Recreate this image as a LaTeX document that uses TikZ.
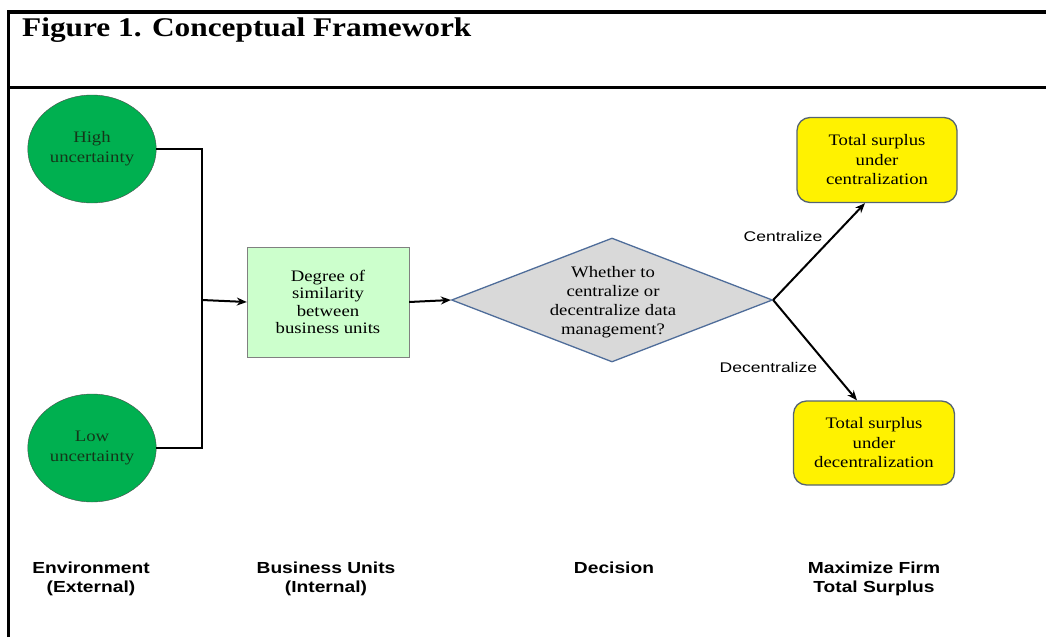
\documentclass[tikz,border=0pt]{standalone}
\usepackage{fontspec}
\setmainfont{Liberation Serif}
\setsansfont{Liberation Sans}
\newfontfamily\titlefont[FakeStretch=1.16]{Liberation Serif}
\newfontfamily\nodefont[FakeStretch=1.17]{Liberation Serif}
\newfontfamily\branchfont[FakeStretch=1.25]{Liberation Sans}
\newfontfamily\capfont[FakeStretch=1.2]{Liberation Sans}
\usetikzlibrary{shapes.geometric,arrows.meta}

\definecolor{circgreen}{RGB}{0,176,80}
\definecolor{circtext}{RGB}{20,55,25}
\definecolor{boxgreen}{RGB}{204,255,204}
\definecolor{diagray}{RGB}{217,217,217}
\definecolor{diablue}{RGB}{79,109,154}
\definecolor{boxedge}{RGB}{85,100,115}

\begin{document}
\begin{tikzpicture}[x=1pt,y=-1pt]
    \useasboundingbox (0,0) rectangle (1046,637);

    % frame and title
    \draw[line width=3.2pt] (8.5,637) -- (8.5,12) -- (1046,12);
    \draw[line width=3pt] (8.5,87) -- (1046,87);
    \node[anchor=base west, inner sep=0pt, font=\titlefont\bfseries\fontsize{27}{27}\selectfont] (title) at (22,36) {Figure 1. Conceptual Framework};

    \begin{scope}[every node/.style={align=center, font=\nodefont\fontsize{16}{18}\selectfont}]
        \node[ellipse, draw=black!70, fill=circgreen, text=circtext, font=\nodefont\fontsize{16}{20}\selectfont, minimum width=127pt, minimum height=108pt] (high) at (92,149) {High\\uncertainty}; % External
        \node[ellipse, draw=black!70, fill=circgreen, text=circtext, font=\nodefont\fontsize{16}{20}\selectfont, minimum width=127pt, minimum height=108pt] (low) at (92,448) {Low\\uncertainty};
        \node[rectangle, draw=black!50, fill=boxgreen, font=\nodefont\fontsize{16}{17.5}\selectfont, minimum width=162pt, minimum height=110pt] (sim) at (328,302) {Degree of\\similarity\\between\\business units};
        \node[diamond, draw=diablue, line width=1.3pt, fill=diagray, inner sep=0pt, minimum width=321pt, minimum height=124pt] (dec) at (612,300) {};
        \node[font=\nodefont\fontsize{16}{19}\selectfont] (dectext) at (613,302) {Whether to\\centralize or\\decentralize data\\management?};
        \node[rectangle, rounded corners=13pt, draw=boxedge, line width=1.3pt, fill=yellow, font=\nodefont\fontsize{16}{19.5}\selectfont, minimum width=160pt, minimum height=85pt] (cent) at (877,160) {Total surplus\\under\\centralization};
        \node[rectangle, rounded corners=13pt, draw=boxedge, line width=1.3pt, fill=yellow, font=\nodefont\fontsize{16}{19.5}\selectfont, minimum width=161pt, minimum height=84pt] (decent) at (874,443) {Total surplus\\under\\decentralization};
    \end{scope}

    \coordinate (join) at (202,300);

    \begin{scope}[every node/.style={font=\branchfont\fontsize{14}{14}\selectfont}, every edge/.style={draw=black,line width=2pt}]
        \draw[line width=2pt] (high.east) -| (join) |- (low.east);
        \path [-{Stealth[length=10pt,width=8pt]}] (join) edge (sim.west);
        \path [-{Stealth[length=10pt,width=8pt]}] (sim.east) edge (dec.west);
        \path [-{Stealth[length=10pt,width=8pt]}] (dec.east) edge node[pos=0.66, left=7pt] {Centralize} ([xshift=-12pt]cent.south);
        \path [-{Stealth[length=10pt,width=8pt]}] (dec.east) edge node[pos=0.67, left=8pt] {Decentralize} ([xshift=-17pt]decent.north);
    \end{scope}

    % column captions (base = last line)
    \begin{scope}[every node/.style={align=center, inner sep=0pt, anchor=base, font=\capfont\bfseries\fontsize{16}{19}\selectfont}]
        \node (env) at (91,592) {Environment\\(External)};
        \node (bu) at (326,592) {Business Units\\(Internal)};
        \node (decis) at (614,573) {Decision};
        \node (maxim) at (874,592) {Maximize Firm\\Total Surplus};
    \end{scope}

\end{tikzpicture}
\end{document}
